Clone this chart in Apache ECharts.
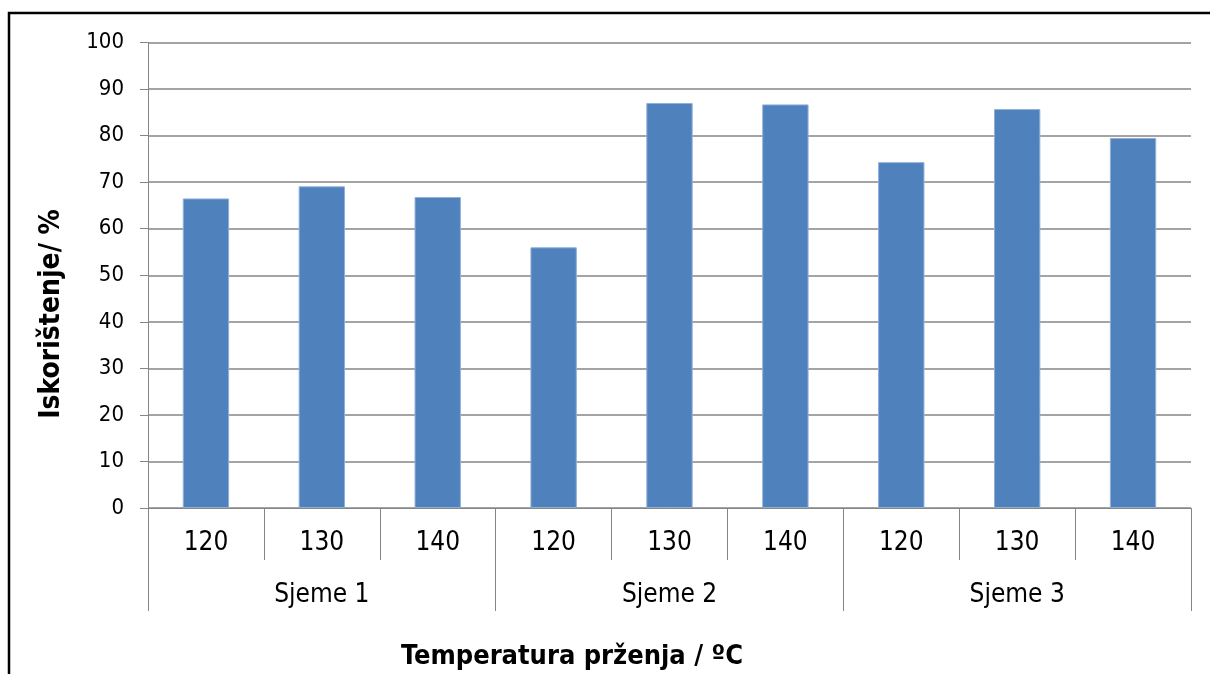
<!DOCTYPE html>
<html>
<head>
<meta charset="utf-8">
<script src="https://cdn.jsdelivr.net/npm/echarts@6/dist/echarts.min.js"></script>
<style>
html,body{margin:0;padding:0;background:#fff;}
#c{width:1210px;height:674px;}
</style>
</head>
<body>
<div id="c"></div>
<script>
const temperatures = ['120','130','140','120','130','140','120','130','140'];
const groups = ['Sjeme 1','Sjeme 2','Sjeme 3'];
const yieldValues = [66.5, 69.1, 66.8, 56.0, 87.0, 86.7, 74.3, 85.7, 79.5];
const yTicks = {min: 0, max: 100, interval: 10};
const yTitle = 'Iskorištenje/ %';
const xTitle = 'Temperatura prženja / ºC';

const FONT = '"DejaVu Sans Condensed", "DejaVu Sans", sans-serif';
const AX = '#868686';

const chart = echarts.init(document.getElementById('c'), null, {renderer: 'canvas'});
chart.setOption({
  animation: false,
  backgroundColor: '#ffffff',
  grid: {left: 148, right: 19, top: 42.5, bottom: 166, containLabel: false},
  xAxis: [
    {
      type: 'category',
      data: temperatures,
      position: 'bottom',
      axisLine: {show: true, lineStyle: {color: AX, width: 1}},
      axisTick: {show: true, interval: 0, length: 52, lineStyle: {color: AX, width: 1}},
      axisLabel: {interval: 0, margin: 22, color: '#000', fontFamily: FONT, fontSize: 26},
      splitLine: {show: false}
    },
    {
      type: 'category',
      data: groups,
      position: 'bottom',
      offset: 0,
      axisLine: {show: false},
      axisTick: {show: true, interval: 0, length: 103, lineStyle: {color: AX, width: 1}},
      axisLabel: {interval: 0, margin: 74, color: '#000', fontFamily: FONT, fontSize: 26},
      splitLine: {show: false}
    }
  ],
  yAxis: {
    type: 'value',
    min: yTicks.min,
    max: yTicks.max,
    interval: yTicks.interval,
    axisLine: {show: true, lineStyle: {color: AX, width: 1}},
    axisTick: {show: true, length: 8, lineStyle: {color: AX, width: 1}},
    axisLabel: {margin: 24, color: '#000', fontFamily: FONT, fontSize: 22},
    splitLine: {show: true, lineStyle: {color: AX, width: 1.5}}
  },
  series: [{
    type: 'bar',
    xAxisIndex: 0,
    data: yieldValues,
    barWidth: '40%',
    itemStyle: {color: '#4F81BD', borderColor: '#8FB0D8', borderWidth: 1}
  }],
  graphic: [
    {
      type: 'polyline',
      shape: {points: [[9, 700], [9, 13], [1220, 13]]},
      style: {stroke: '#000', lineWidth: 2.5, fill: null}
    },
    {
      type: 'text',
      x: 52, y: 314,
      rotation: Math.PI / 2,
      style: {text: yTitle, fill: '#000', font: 'bold 28px ' + FONT, align: 'center', verticalAlign: 'middle'}
    },
    {
      type: 'text',
      x: 572, y: 657,
      style: {text: xTitle, fill: '#000', font: 'bold 27px ' + FONT, align: 'center', verticalAlign: 'middle'}
    }
  ]
});
</script>
</body>
</html>
